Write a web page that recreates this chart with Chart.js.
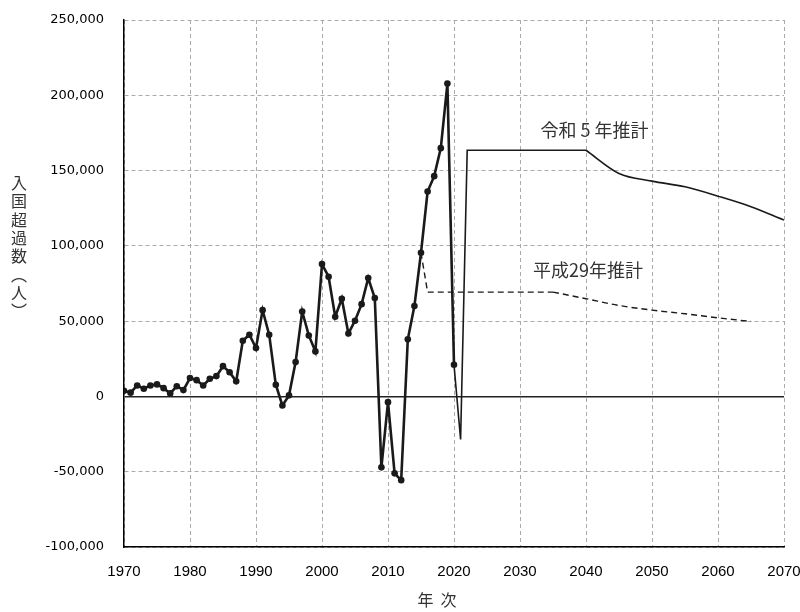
<!DOCTYPE html>
<html>
<head>
<meta charset="utf-8">
<script src="https://cdn.jsdelivr.net/npm/chart.js@4.4.1/dist/chart.umd.min.js"></script>
<style>
  html, body { margin: 0; padding: 0; background: #fff; }
  #wrap { width: 800px; height: 612px; }
</style>
</head>
<body>
<div id="wrap"><canvas id="migChart" width="800" height="612"></canvas></div>
<script>
// 実績（入国超過数）
const actualYears = [
  1970, 1971, 1972, 1973, 1974, 1975, 1976, 1977, 1978, 1979,
  1980, 1981, 1982, 1983, 1984, 1985, 1986, 1987, 1988, 1989,
  1990, 1991, 1992, 1993, 1994, 1995, 1996, 1997, 1998, 1999,
  2000, 2001, 2002, 2003, 2004, 2005, 2006, 2007, 2008, 2009,
  2010, 2011, 2012, 2013, 2014, 2015, 2016, 2017, 2018, 2019, 2020
];
const actualValues = [
  3800, 2500, 7300, 5100, 7300, 8000, 5500, 2000, 6800, 4200,
  12200, 10800, 7300, 11700, 13500, 20100, 16100, 10000, 37000, 41000,
  32100, 57300, 41000, 7800, -6000, 700, 22800, 56400, 40500, 29900,
  87900, 79500, 52900, 64900, 41800, 50300, 61300, 78600, 65300, -47100,
  -3800, -51100, -55600, 37900, 60000, 95400, 136100, 146300, 164900, 207800, 21000
];

// 令和5年推計
const r5StepYears = [2020, 2021, 2022, 2040];
const r5StepValues = [21000, -28600, 163500, 163500];
const r5CurveYears = [2040, 2045, 2050, 2055, 2060, 2065, 2070];
const r5CurveValues = [163500, 148100, 143000, 139200, 133000, 126000, 117100];

// 平成29年推計
const h29StepYears = [2015, 2016, 2035];
const h29StepValues = [95400, 69300, 69300];
const h29CurveYears = [2035, 2040, 2045, 2050, 2055, 2060, 2065];
const h29CurveValues = [69300, 64900, 60400, 57300, 54900, 52200, 49800];

const xTicks = [1970, 1980, 1990, 2000, 2010, 2020, 2030, 2040, 2050, 2060, 2070];
const yTicks = [-100000, -50000, 0, 50000, 100000, 150000, 200000, 250000];

const yTitle = ["入", "国", "超", "過", "数", "︵", "人", "︶"];
const xTitle = "年  次";
const labels = [
  { text: "令和 5 年推計", x: 2041.3, y: 176600 },
  { text: "平成29年推計", x: 2040.3, y: 83700 }
];

const pts = (xs, ys) => xs.map((x, i) => ({ x: x, y: ys[i] }));

const cjk = '"Noto Sans CJK JP", "Noto Sans", sans-serif';

const textPlugin = {
  id: "textPlugin",
  afterDraw(chart) {
    const ctx = chart.ctx;
    const xs = chart.scales.x;
    const ys = chart.scales.y;
    ctx.save();
    ctx.fillStyle = "#333";
    ctx.textAlign = "center";
    ctx.textBaseline = "middle";

    ctx.font = "18px " + cjk;
    labels.forEach((l) => {
      ctx.fillText(l.text, xs.getPixelForValue(l.x), ys.getPixelForValue(l.y));
    });

    ctx.font = "16px " + cjk;
    yTitle.forEach((ch, i) => {
      ctx.fillText(ch, 19, 183 + i * 18.3);
    });

    ctx.fillText(xTitle, 437, 600);
    ctx.restore();
  }
};

const dashed = [4, 3];

new Chart(document.getElementById("migChart").getContext("2d"), {
  type: "line",
  data: {
    datasets: [
      {
        data: pts(actualYears, actualValues),
        borderColor: "#1a1a1a",
        backgroundColor: "#1a1a1a",
        borderWidth: 2.6,
        pointRadius: 3.3,
        pointBorderWidth: 0,
        tension: 0,
        order: 1
      },
      {
        data: pts(r5StepYears, r5StepValues),
        borderColor: "#1a1a1a",
        borderWidth: 1.6,
        pointRadius: 0,
        tension: 0,
        order: 2
      },
      {
        data: pts(r5CurveYears, r5CurveValues),
        borderColor: "#1a1a1a",
        borderWidth: 1.6,
        pointRadius: 0,
        cubicInterpolationMode: "monotone",
        order: 2
      },
      {
        data: pts(h29StepYears, h29StepValues),
        borderColor: "#1a1a1a",
        borderWidth: 1.4,
        borderDash: [6, 4],
        pointRadius: 0,
        tension: 0,
        order: 3
      },
      {
        data: pts(h29CurveYears, h29CurveValues),
        borderColor: "#1a1a1a",
        borderWidth: 1.4,
        borderDash: [6, 4],
        pointRadius: 0,
        cubicInterpolationMode: "monotone",
        order: 3
      }
    ]
  },
  options: {
    responsive: false,
    animation: false,
    layout: { padding: { top: 20, right: 16, left: 0, bottom: 0 } },
    plugins: {
      legend: { display: false },
      tooltip: { enabled: false }
    },
    scales: {
      x: {
        type: "linear",
        min: 1970,
        max: 2070,
        afterFit: (s) => { s.height = 65; s.paddingLeft = 0; s.paddingRight = 0; },
        afterBuildTicks: (s) => { s.ticks = xTicks.map((v) => ({ value: v })); },
        ticks: {
          padding: 16,
          color: "#000",
          font: { family: '"Liberation Sans", sans-serif', size: 15 },
          callback: (v) => String(v),
          maxRotation: 0
        },
        grid: {
          color: "#aaaaaa",
          lineWidth: 1,
          drawTicks: false
        },
        border: { display: true, color: "#000", width: 1.5, dash: dashed }
      },
      y: {
        min: -100000,
        max: 250000,
        afterFit: (s) => { s.width = 124; s.paddingTop = 0; s.paddingBottom = 0; },
        afterBuildTicks: (s) => { s.ticks = yTicks.map((v) => ({ value: v })); },
        ticks: {
          padding: 20,
          color: "#000",
          font: { family: '"DejaVu Sans", sans-serif', size: 13 },
          callback: (v) => v.toLocaleString("en-US")
        },
        grid: {
          color: (c) => (c.tick && c.tick.value === 0 ? "#222" : "#aaaaaa"),
          lineWidth: (c) => (c.tick && c.tick.value === 0 ? 1.5 : 1),
          drawTicks: false
        },
        border: {
          display: true,
          color: "#000",
          width: 1.5,
          dash: (c) => (c.tick && c.tick.value === 0 ? [] : dashed)
        }
      }
    }
  },
  plugins: [textPlugin]
});
</script>
</body>
</html>
